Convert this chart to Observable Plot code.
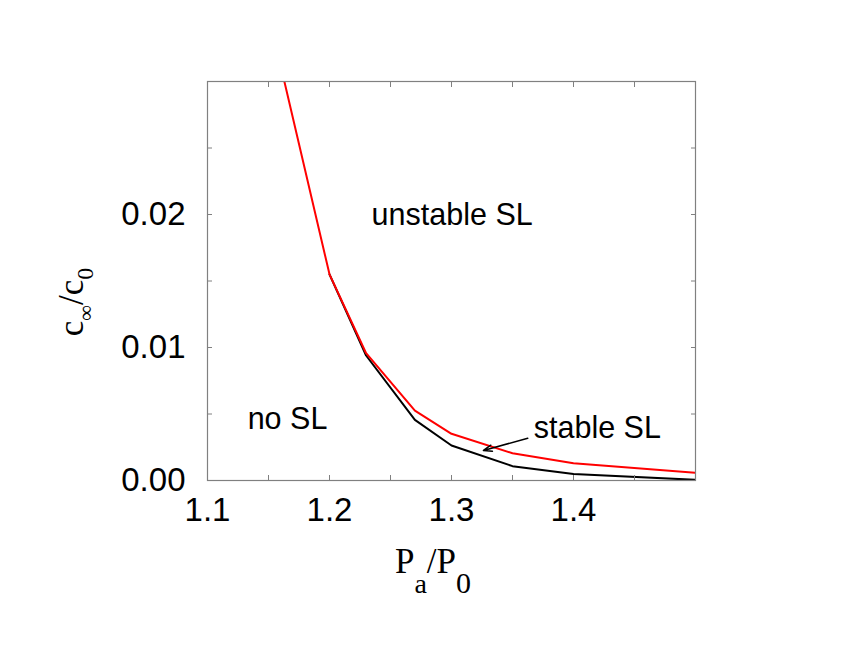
<!DOCTYPE html>
<html>
<head>
<meta charset="utf-8">
<script src="https://cdn.jsdelivr.net/npm/d3@7"></script>
<script src="https://cdn.jsdelivr.net/npm/@observablehq/plot@0.6"></script>
<style>
  html, body { margin: 0; padding: 0; background: #fff; }
</style>
</head>
<body>
<div id="chart"></div>
<script>
// Threshold curves: c_inf/c_0 vs P_a/P_0
const pressure = [1.15, 1.2, 1.23, 1.27, 1.3, 1.35, 1.4, 1.5];
const unstableBoundary = [0.0351, 0.0155, 0.00957, 0.00526, 0.00351, 0.00205, 0.0013, 0.00058];
const blackPressure = [1.2, 1.23, 1.27, 1.3, 1.35, 1.4, 1.5];
const stableBoundary = [0.0155, 0.0094, 0.00456, 0.00263, 0.00108, 0.00048, 0.00005];

const xTickLabels = [1.1, 1.2, 1.3, 1.4];
const yTickLabels = [0.00, 0.01, 0.02];
const xMinorTicks = [1.1, 1.15, 1.2, 1.25, 1.3, 1.35, 1.4, 1.45, 1.5];
const yMinorTicks = [0, 0.005, 0.01, 0.015, 0.02, 0.025, 0.03];

const annotationText = ["unstable SL", "no SL", "stable SL"];
const annotationX = [1.2345, 1.1329, 1.3674];
const annotationY = [0.0192, 0.00388, 0.00317];

const arrowFrom = {x: 1.3625, y: 0.00318};
const arrowTo = {x: 1.3262, y: 0.00226};

const redData = pressure.map((p, i) => ({x: p, y: unstableBoundary[i]}));
const blackData = blackPressure.map((p, i) => ({x: p, y: stableBoundary[i]}));
const labels = annotationText.map((t, i) => ({text: t, x: annotationX[i], y: annotationY[i]}));

const gray = "#808080";
const empty = () => "";

const chart = Plot.plot({
  width: 846,
  height: 654,
  marginLeft: 207,
  marginRight: 151,
  marginTop: 81,
  marginBottom: 174,
  style: {fontFamily: "'Liberation Sans', Arial, Helvetica, sans-serif", background: "#fff"},
  x: {domain: [1.1, 1.5]},
  y: {domain: [0, 0.03]},
  marks: [
    Plot.line(blackData, {x: "x", y: "y", stroke: "black", strokeWidth: 2, clip: true}),
    Plot.line(redData, {x: "x", y: "y", stroke: "#ff0000", strokeWidth: 2, clip: true}),
    Plot.arrow([{}], {x1: () => arrowFrom.x, y1: () => arrowFrom.y, x2: () => arrowTo.x, y2: () => arrowTo.y,
      stroke: "black", strokeWidth: 1.5, headLength: 9, headAngle: 40}),
    Plot.text(labels, {x: "x", y: "y", text: "text", textAnchor: "start", lineAnchor: "bottom",
      fontSize: 30.5, fill: "black"}),
    Plot.frame({stroke: gray, strokeWidth: 1.2}),
    // inward ticks on all four sides
    Plot.axisX(xMinorTicks, {anchor: "bottom", tickSize: -5, tickFormat: empty, stroke: gray, label: null}),
    Plot.axisX(xMinorTicks, {anchor: "top", tickSize: -5, tickFormat: empty, stroke: gray, label: null}),
    Plot.axisY(yMinorTicks, {anchor: "left", tickSize: -5, tickFormat: empty, stroke: gray, label: null}),
    Plot.axisY(yMinorTicks, {anchor: "right", tickSize: -5, tickFormat: empty, stroke: gray, label: null}),
    // tick labels
    Plot.axisX(xTickLabels, {anchor: "bottom", tickSize: 0, tickPadding: 17, tickFormat: d3.format(".1f"),
      fontSize: 33, fill: "black", label: null}),
    Plot.axisY(yTickLabels, {anchor: "left", tickSize: 0, tickPadding: 22, tickFormat: d3.format(".2f"),
      fontSize: 33, fill: "black", label: null})
  ]
});

document.getElementById("chart").appendChild(chart);

// Axis titles with subscripts
const svg = d3.select(chart);
const serif = "'Liberation Serif', 'Times New Roman', Times, serif";

const xt = svg.append("text")
  .attr("x", 433).attr("y", 573)
  .attr("text-anchor", "middle")
  .style("font-family", serif).style("font-size", "35px").attr("fill", "black");
xt.append("tspan").text("P");
xt.append("tspan").attr("dy", 20).style("font-size", "28px").text("a");
xt.append("tspan").attr("dy", -20).text("/P");
xt.append("tspan").attr("dy", 20).style("font-size", "30px").text("0");

const yt = svg.append("text")
  .attr("transform", "translate(83,302) rotate(-90)")
  .attr("text-anchor", "middle")
  .style("font-family", serif).style("font-size", "35px").attr("fill", "black");
yt.append("tspan").text("c");
yt.append("tspan").attr("dy", 10).style("font-size", "22px").text("∞");
yt.append("tspan").attr("dy", -10).text("/c");
yt.append("tspan").attr("dy", 10).style("font-size", "24px").text("0");
</script>
</body>
</html>
